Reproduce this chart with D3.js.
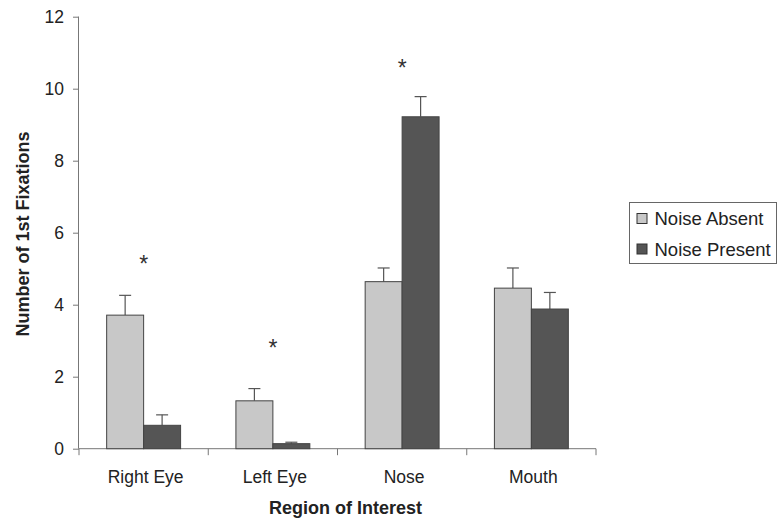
<!DOCTYPE html>
<html>
<head>
<meta charset="utf-8">
<script src="https://cdn.jsdelivr.net/npm/d3@7"></script>
<style>
  html, body { margin: 0; padding: 0; background: #fff; }
  svg { display: block; font-family: "Liberation Sans", Arial, Helvetica, sans-serif; }
</style>
</head>
<body>
<svg id="chart" width="778" height="527"></svg>
<script>
// Regions of interest and series
const categories = ["Right Eye", "Left Eye", "Nose", "Mouth"];
const seriesNames = ["Noise Absent", "Noise Present"];
const noiseAbsent = [3.71, 1.33, 4.64, 4.46];
const noiseAbsentErr = [0.55, 0.34, 0.38, 0.56];
const noisePresent = [0.65, 0.14, 9.22, 3.88];
const noisePresentErr = [0.29, 0.04, 0.56, 0.46];
// Significance markers: category and height of the asterisk
const sigCategories = ["Right Eye", "Left Eye", "Nose"];
const sigLevels = [5.21, 2.88, 10.66];
const yTicks = [0, 2, 4, 6, 8, 10, 12];

const colors = { "Noise Absent": "#c8c8c8", "Noise Present": "#555555" };
const values = { "Noise Absent": noiseAbsent, "Noise Present": noisePresent };
const errors = { "Noise Absent": noiseAbsentErr, "Noise Present": noisePresentErr };

const svg = d3.select("#chart");
const plotLeft = 79, plotRight = 596, plotTop = 16.7, plotBottom = 448.7;

const x0 = d3.scaleBand().domain(categories).range([plotLeft, plotRight]).paddingInner(0).paddingOuter(0);
const x1 = d3.scaleBand().domain(seriesNames)
  .range([x0.bandwidth() * 0.214, x0.bandwidth() * 0.786]).padding(0);
const y = d3.scaleLinear().domain([0, 12]).range([plotBottom, plotTop]);

const axisColor = "#777";

// Y axis
const yAxis = svg.append("g")
  .attr("transform", `translate(${plotLeft},0)`)
  .call(d3.axisLeft(y).tickValues(yTicks).tickSize(6).tickPadding(9).tickFormat(d3.format("d")));
yAxis.select(".domain").attr("stroke", axisColor).attr("d", `M-0.5,${plotTop}V${plotBottom}`);
yAxis.selectAll(".tick line").attr("stroke", axisColor);
yAxis.selectAll(".tick text").attr("fill", "#222").style("font-size", "17.5px");

// X axis with boundary ticks
const xAxisG = svg.append("g").attr("transform", `translate(0,${plotBottom})`);
xAxisG.append("line").attr("x1", plotLeft).attr("x2", plotRight).attr("y1", 0).attr("y2", 0)
  .attr("stroke", axisColor);
const boundaries = categories.map(c => x0(c)).concat([x0(categories[categories.length - 1]) + x0.bandwidth()]);
xAxisG.selectAll("line.bnd").data(boundaries).join("line").attr("class", "bnd")
  .attr("x1", d => d).attr("x2", d => d).attr("y1", 0).attr("y2", 6.5)
  .attr("stroke", axisColor);
xAxisG.selectAll("text.cat").data(categories).join("text").attr("class", "cat")
  .attr("x", d => x0(d) + x0.bandwidth() / 2 + 2)
  .attr("y", 34.5)
  .attr("text-anchor", "middle")
  .attr("fill", "#222")
  .style("font-size", "17.5px")
  .text(d => d);

// Bars
const groups = svg.append("g").selectAll("g").data(categories).join("g")
  .attr("transform", d => `translate(${x0(d)},0)`);

seriesNames.forEach(s => {
  groups.append("line")
    .attr("x1", (d, i) => x1(s) + x1.bandwidth() / 2)
    .attr("x2", (d, i) => x1(s) + x1.bandwidth() / 2)
    .attr("y1", (d, i) => y(values[s][i]))
    .attr("y2", (d, i) => y(values[s][i] + errors[s][i]))
    .attr("stroke", "#555").attr("stroke-width", 1.2);
  groups.append("line")
    .attr("x1", (d, i) => x1(s) + x1.bandwidth() / 2 - 6)
    .attr("x2", (d, i) => x1(s) + x1.bandwidth() / 2 + 6)
    .attr("y1", (d, i) => y(values[s][i] + errors[s][i]))
    .attr("y2", (d, i) => y(values[s][i] + errors[s][i]))
    .attr("stroke", "#555").attr("stroke-width", 1.2);
  groups.append("rect")
    .attr("x", x1(s))
    .attr("width", x1.bandwidth())
    .attr("y", (d, i) => y(values[s][i]))
    .attr("height", (d, i) => y(0) - y(values[s][i]))
    .attr("fill", colors[s])
    .attr("stroke", "#444").attr("stroke-width", 1);
});

// Significance asterisks
svg.append("g").selectAll("text").data(sigCategories).join("text")
  .attr("x", d => x0(d) + x0.bandwidth() / 2)
  .attr("y", (d, i) => y(sigLevels[i]) + 11)
  .attr("text-anchor", "middle")
  .attr("fill", "#333")
  .style("font-size", "23px")
  .text("*");

// Axis titles
svg.append("text")
  .attr("x", 345.5).attr("y", 514)
  .attr("text-anchor", "middle")
  .attr("fill", "#222")
  .style("font-size", "18px").style("font-weight", "bold")
  .text("Region of Interest");
svg.append("text")
  .attr("transform", "translate(29,234) rotate(-90)")
  .attr("text-anchor", "middle")
  .attr("fill", "#222")
  .style("font-size", "18px").style("font-weight", "bold")
  .text("Number of 1st Fixations");

// Legend
const legend = svg.append("g").attr("transform", "translate(629.5,202.5)");
legend.append("rect").attr("width", 147).attr("height", 61)
  .attr("fill", "#fff").attr("stroke", "#666").attr("stroke-width", 1);
seriesNames.forEach((s, i) => {
  const row = legend.append("g").attr("transform", `translate(7.5,${11 + i * 30.5})`);
  row.append("rect").attr("width", 10).attr("height", 10)
    .attr("fill", colors[s]).attr("stroke", "#333").attr("stroke-width", 1);
  row.append("text").attr("x", 17.5).attr("y", 11.5).attr("fill", "#222")
    .style("font-size", "18.5px").text(s);
});
</script>
</body>
</html>
